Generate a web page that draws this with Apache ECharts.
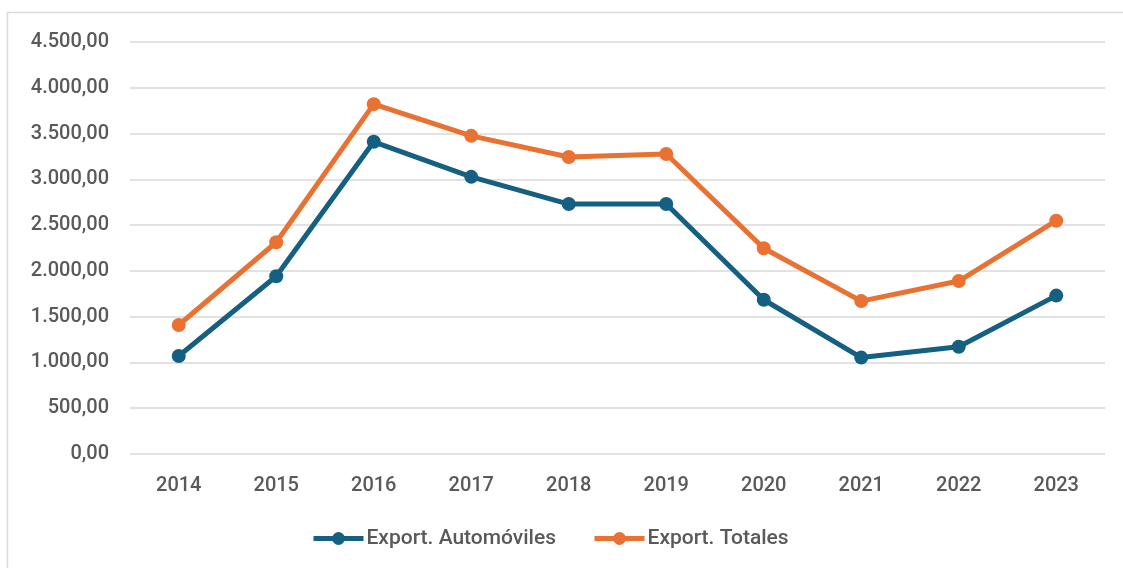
<!DOCTYPE html>
<html>
<head>
<meta charset="utf-8">
<script src="https://cdn.jsdelivr.net/npm/echarts@6/dist/echarts.min.js"></script>
<style>
	html, body { margin: 0; padding: 0; background: #fff; }
	#chart { width: 1123px; height: 568px; }
</style>
</head>
<body>
<div id="chart"></div>
<script>
// 年份
var years = ['2014', '2015', '2016', '2017', '2018', '2019', '2020', '2021', '2022', '2023'];
// 两条线的数据
var autos = [1070, 1942, 3410, 3027, 2730, 2730, 1685, 1053, 1172, 1730];
var totales = [1409, 2313, 3821, 3475, 3244, 3276, 2248, 1670, 1889, 2548];
var seriesNames = ['Export. Automóviles', 'Export. Totales'];

// 西班牙格式 4.500,00
function fmtEs(v) {
	var parts = v.toFixed(2).split('.');
	var intPart = parts[0].replace(/\B(?=(\d{3})+(?!\d))/g, '.');
	return intPart + ',' + parts[1];
}

(function () {
	var myChart = echarts.init(document.getElementById('chart'));
	var font = 'Roboto, "Noto Sans", sans-serif';
	var option = {
		backgroundColor: '#fff',
		textStyle: { fontFamily: font },
		color: ['#156082', '#E97132'],
		graphic: [{
			type: 'rect',
			shape: { x: 7.5, y: 12.5, width: 1130, height: 600 },
			style: { fill: 'none', stroke: '#d9d9d9', lineWidth: 1.5 },
			silent: true
		}],
		grid: {
			left: 130,
			right: 18,
			top: 42,
			bottom: 114
		},
		legend: {
			bottom: 14,
			left: 306,
			itemWidth: 50,
			itemHeight: 16,
			itemGap: 36,
			lineStyle: { width: 5 },
			itemStyle: { borderWidth: 0 },
			textStyle: { color: '#595959', fontSize: 21, fontWeight: 500, fontFamily: font, padding: [0, 0, 0, -2] },
			data: seriesNames
		},
		xAxis: {
			type: 'category',
			data: years,
			axisTick: { show: false },
			axisLine: { show: false },
			axisLabel: { color: '#595959', fontSize: 20, fontWeight: 500, margin: 22 }
		},
		yAxis: {
			type: 'value',
			min: 0,
			max: 4500,
			interval: 500,
			axisLabel: {
				color: '#595959',
				fontSize: 20,
				fontWeight: 500,
				margin: 21,
				formatter: fmtEs
			},
			axisLine: { show: false },
			axisTick: { show: false },
			splitLine: { lineStyle: { color: '#d9d9d9', width: 1.5 } }
		},
		series: [
			{
				name: seriesNames[0],
				type: 'line',
				data: autos,
				symbol: 'circle',
				symbolSize: 14,
				lineStyle: { width: 5 },
				itemStyle: { color: '#156082' }
			},
			{
				name: seriesNames[1],
				type: 'line',
				data: totales,
				symbol: 'circle',
				symbolSize: 14,
				lineStyle: { width: 5 },
				itemStyle: { color: '#E97132' }
			}
		]
	};
	myChart.setOption(option);
	window.addEventListener('resize', function () {
		myChart.resize();
	});
})();
</script>
</body>
</html>
